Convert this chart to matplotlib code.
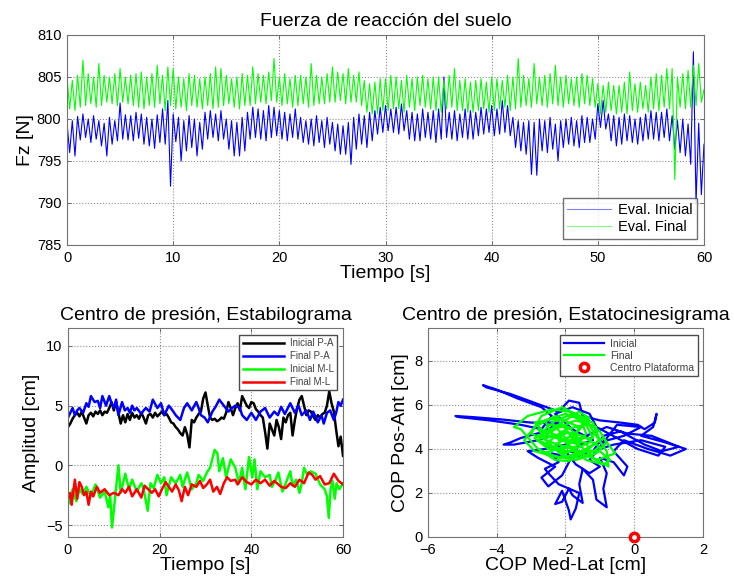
import matplotlib.pyplot as plt
import numpy as np

plt.rcParams.update({'font.family': ['Liberation Sans', 'DejaVu Sans'], 'font.size': 10.5})

# Fuerza vertical, muestras cada 0.25 s (una fila = 3 s)
dt_fz = 0.25
fz_inicial = [
    799.5, 796.0, 799.8, 795.6, 800.3, 797.5, 800.6, 797.8, 800.0, 797.2, 800.4, 797.6,
    799.8, 796.8, 799.5, 795.6, 800.2, 797.0, 799.8, 797.4, 801.9, 797.6, 800.5, 797.5,
    800.4, 797.4, 800.8, 797.7, 800.6, 797.0, 800.2, 796.8, 800.0, 796.5, 800.5, 797.2,
    801.2, 797.0, 802.2, 792.0, 800.6, 797.3, 800.2, 795.0, 799.8, 796.2, 800.4, 796.6,
    800.0, 795.6, 799.6, 796.4, 800.8, 797.6, 801.0, 797.8, 800.6, 797.4, 801.0, 797.6,
    800.0, 796.4, 799.8, 795.6, 799.6, 795.6, 800.2, 796.2, 800.8, 797.6, 801.4, 797.8,
    801.2, 797.6, 801.0, 797.4, 801.6, 797.8, 801.4, 798.0, 801.0, 797.6, 800.8, 797.4,
    800.6, 797.8, 801.2, 797.6, 800.2, 797.2, 799.8, 797.0, 800.0, 796.8, 800.4, 797.2,
    799.8, 796.6, 800.2, 797.0, 799.6, 796.2, 799.4, 795.8, 799.2, 795.8, 799.6, 794.6,
    800.2, 796.4, 800.6, 797.0, 800.4, 796.6, 800.8, 797.4, 801.0, 798.2, 801.4, 798.4,
    801.6, 798.6, 801.2, 798.4, 801.4, 798.2, 801.8, 798.6, 801.0, 797.6, 800.8, 797.4,
    800.6, 797.4, 801.2, 797.8, 800.8, 797.6, 801.0, 797.2, 801.2, 797.6, 805.0, 797.8,
    800.8, 797.6, 801.0, 797.4, 800.6, 797.8, 801.2, 797.6, 801.0, 797.6, 800.8, 798.0,
    801.4, 798.2, 801.2, 798.4, 801.6, 798.0, 801.2, 798.2, 802.2, 798.4, 801.6, 798.0,
    800.2, 796.6, 799.8, 796.2, 799.6, 795.8, 799.8, 793.4, 799.6, 793.3, 800.0, 796.2,
    799.8, 796.0, 800.2, 796.4, 799.4, 795.0, 799.8, 796.6, 800.0, 797.0, 800.2, 796.8,
    799.8, 796.6, 800.4, 797.2, 800.2, 797.2, 800.0, 797.6, 801.8, 799.0, 802.2, 798.8,
    800.6, 797.4, 800.4, 796.8, 800.2, 797.0, 800.6, 797.4, 800.4, 797.2, 800.0, 797.0,
    800.2, 797.4, 800.6, 797.6, 801.0, 797.6, 800.8, 797.4, 800.8, 797.8, 801.2, 797.4,
    800.4, 796.4, 799.8, 796.0, 800.0, 795.6, 799.4, 794.6, 808.0, 790.0, 799.5, 791.0,
    797.0,
]
fz_final = [
    805.0, 801.2, 804.6, 801.0, 805.2, 801.4, 807.0, 801.6, 805.4, 801.8, 805.0, 801.4,
    806.6, 801.6, 805.2, 802.0, 805.0, 801.8, 805.4, 801.6, 806.0, 802.0, 805.0, 801.8,
    805.2, 801.6, 805.4, 801.4, 805.6, 801.2, 805.0, 801.6, 805.4, 801.4, 806.4, 801.8,
    805.2, 801.0, 806.2, 801.6, 806.0, 801.2, 805.0, 801.4, 804.8, 801.0, 805.4, 801.6,
    805.2, 801.4, 804.8, 801.2, 805.0, 801.6, 805.4, 801.2, 806.2, 801.4, 806.0, 801.6,
    805.2, 801.8, 804.8, 801.4, 805.0, 801.2, 805.4, 801.6, 805.2, 801.6, 806.2, 801.8,
    805.4, 802.0, 805.2, 801.8, 805.6, 802.2, 807.2, 802.0, 805.0, 801.6, 805.4, 801.8,
    804.8, 801.4, 805.2, 801.6, 805.2, 801.8, 805.0, 801.4, 806.6, 801.6, 805.2, 801.8,
    805.0, 801.8, 805.4, 802.0, 806.2, 802.0, 805.6, 802.2, 805.4, 801.8, 806.0, 802.0,
    805.2, 802.0, 805.6, 801.6, 804.6, 800.8, 804.2, 800.6, 804.4, 800.6, 804.8, 801.0,
    804.8, 801.0, 805.2, 801.2, 805.0, 801.2, 804.6, 800.8, 805.2, 801.4, 804.8, 801.0,
    805.0, 801.6, 805.2, 801.4, 804.8, 801.2, 805.0, 801.0, 805.0, 800.8, 804.6, 801.2,
    805.2, 801.4, 806.0, 801.0, 804.6, 801.0, 804.8, 800.8, 804.4, 800.8, 804.6, 801.0,
    804.8, 801.2, 804.4, 800.8, 805.0, 801.0, 804.8, 801.2, 804.6, 801.4, 805.2, 801.0,
    805.0, 801.2, 807.2, 801.4, 805.2, 801.6, 804.8, 801.4, 806.6, 801.8, 805.0, 801.6,
    805.2, 801.4, 805.4, 801.8, 806.4, 801.6, 805.0, 801.4, 805.2, 801.8, 804.8, 801.6,
    805.0, 801.4, 805.4, 801.8, 805.2, 801.6, 804.8, 801.4, 804.2, 800.6, 804.0, 800.8,
    804.4, 801.0, 804.0, 800.6, 804.0, 800.8, 804.4, 800.6, 805.6, 801.0, 804.2, 800.8,
    804.4, 801.2, 804.0, 800.8, 805.0, 801.2, 805.4, 801.0, 805.2, 801.4, 806.0, 801.2,
    806.0, 792.8, 805.0, 801.4, 805.4, 801.2, 805.8, 801.4, 806.4, 801.6, 806.6, 802.0,
    803.5,
]

# Estabilograma (tiempo [s], amplitud [cm])
pa_inicial = [
    (0, 3.2), (0.5, 3.5), (1, 3.9), (1.5, 4.2), (2, 4.4), (2.5, 4.1), (3, 4.5), (3.5, 4.0),
    (4, 3.5), (4.5, 4.2), (5, 4.4), (5.5, 4.1), (6, 4.5), (6.5, 4.3), (7, 4.6), (7.5, 4.2),
    (8, 4.5), (8.5, 4.4), (9, 4.8), (9.5, 5.3), (10, 4.6), (10.5, 5.3), (11, 4.4), (11.5, 3.5),
    (12, 4.2), (12.5, 3.6), (13, 4.3), (13.5, 3.8), (14, 4.4), (14.5, 4.0), (15, 4.2), (15.5, 3.9),
    (16, 4.4), (16.5, 4.0), (17, 3.5), (17.5, 4.2), (18, 4.3), (18.5, 4.0), (19, 4.4), (19.5, 4.1),
    (20, 4.3), (20.5, 4.5), (21, 4.2), (21.5, 4.3), (22, 4.0), (22.5, 3.6), (23, 3.5), (23.5, 3.2),
    (24, 3.0), (24.5, 2.7), (25, 2.5), (25.5, 3.2), (26, 2.6), (26.5, 1.5), (27, 3.8), (27.5, 3.6),
    (28, 4.0), (28.5, 4.3), (29, 4.5), (29.5, 5.6), (30, 6.1), (30.5, 5.0), (31, 4.0), (31.5, 3.8),
    (32, 3.9), (32.5, 3.7), (33, 3.8), (33.5, 4.0), (34, 3.9), (34.5, 4.4), (35, 5.3), (35.5, 4.8),
    (36, 4.2), (36.5, 4.8), (37, 5.2), (37.5, 4.6), (38, 5.8), (38.5, 5.4), (39, 5.0), (39.5, 4.8),
    (40, 5.3), (40.5, 5.2), (41, 4.7), (41.5, 4.5), (42, 4.2), (42.5, 4.0), (43, 2.8), (43.5, 1.4),
    (44, 3.5), (44.5, 3.0), (45, 2.5), (45.5, 3.8), (46, 3.2), (46.5, 2.2), (47, 4.0), (47.5, 3.6),
    (48, 4.2), (48.5, 4.4), (49, 2.5), (49.5, 3.8), (50, 4.8), (50.5, 5.5), (51, 5.8), (51.5, 5.0),
    (52, 4.2), (52.5, 4.6), (53, 4.5), (53.5, 4.1), (54, 3.8), (54.5, 4.2), (55, 4.0), (55.5, 4.3),
    (56, 4.4), (56.5, 5.0), (57, 6.2), (57.5, 5.2), (58, 4.5), (58.5, 3.0), (59, 1.6), (59.5, 2.4),
    (60, 0.8),
]
pa_final = [
    (0, 4.0), (0.5, 4.4), (1, 4.8), (1.5, 4.2), (2, 4.6), (2.5, 4.8), (3.3, 4.4), (4, 5.2),
    (4.5, 4.9), (5, 5.8), (5.8, 5.3), (6.5, 5.4), (7, 4.8), (7.5, 5.8), (8.3, 5.0), (9, 5.8),
    (9.5, 5.2), (10, 4.8), (10.5, 5.5), (11, 4.2), (11.8, 5.3), (12.4, 4.6), (13, 4.8), (13.5, 4.4),
    (14, 5.0), (14.5, 4.6), (15, 4.8), (16, 4.3), (16.5, 4.6), (17, 4.8), (17.8, 4.5), (18.5, 5.5),
    (19.5, 4.8), (20.3, 5.2), (21, 4.2), (21.5, 4.6), (22, 5.0), (22.8, 4.6), (23.5, 4.2), (24.5, 3.8),
    (25.3, 4.8), (26, 5.2), (27, 4.6), (28, 5.3), (28.5, 4.8), (29, 4.2), (29.8, 4.0), (30.5, 3.6),
    (31.5, 4.5), (32.2, 4.9), (33, 5.5), (34, 5.0), (35, 4.5), (35.8, 4.8), (36.5, 5.0), (37.5, 4.8),
    (38, 4.2), (39, 3.8), (40, 4.4), (41, 3.8), (42, 4.5), (43, 4.8), (44, 4.0), (45, 4.5),
    (45.8, 4.2), (46.5, 4.9), (47.3, 4.3), (48.5, 5.2), (49.5, 4.4), (50.3, 5.0), (51, 4.2), (52, 4.6),
    (52.8, 3.8), (53.5, 4.5), (54.5, 3.6), (55.3, 4.2), (55.8, 3.5), (56.5, 4.4), (57.2, 4.6), (58, 3.8),
    (58.5, 4.4), (59, 5.3), (59.5, 5.0), (60, 5.5),
]
ml_inicial = [
    (0, -2.5), (0.5, -3.2), (1, -2.0), (1.8, -3.0), (2.5, -2.0), (3.2, -2.4), (4, -1.8), (5, -2.6),
    (6, -1.6), (7, -2.7), (8, -2.2), (8.8, -3.5), (9.2, -2.5), (9.6, -5.2), (10.2, -3.0), (10.6, -1.5),
    (11, 0.0), (11.5, -2.3), (12.5, -0.7), (13.3, -2.0), (14, -1.2), (15, -2.2), (16, -1.5), (16.5, -2.0),
    (17.4, -3.8), (18, -1.5), (18.7, -1.9), (19.5, -0.8), (20.3, -1.5), (21, -1.0), (21.5, -2.5), (22.5, -1.0),
    (23.5, -1.5), (24.5, -0.8), (25, -1.8), (26, -0.6), (27, -2.0), (28, -1.5), (28.5, -0.8), (29.5, -1.3),
    (30.3, -0.6), (31, -0.2), (32, 1.3), (32.6, 1.0), (33, -0.5), (33.8, 0.6), (34.5, -1.0), (35.5, 0.5),
    (36.5, -0.2), (37.3, -1.5), (38, -0.2), (38.7, -2.0), (39.5, 0.7), (40.2, -1.0), (40.7, 0.5), (41.3, -2.0),
    (42, -0.5), (43, -1.0), (44, -0.8), (44.5, -1.8), (45.2, -1.3), (45.9, -0.6), (46.8, -2.2), (47.5, -1.5),
    (48.5, -0.5), (49, -1.7), (49.8, -1.2), (50.5, -2.3), (51, -1.5), (51.5, -0.2), (52.2, -0.8), (53, -0.5),
    (54, -0.7), (55, -1.6), (56, -2.0), (56.5, -2.6), (56.9, -4.4), (57.3, -2.0), (57.7, -1.3), (58.2, -2.8),
    (58.6, -1.5), (59.2, -2.0), (60, -1.5),
]
ml_final = [
    (0, -2.8), (0.5, -2.3), (0.8, -3.3), (1.5, -1.2), (2, -2.8), (2.5, -1.4), (3, -1.8), (3.5, -2.5),
    (4, -2.2), (4.5, -3.3), (5, -2.2), (5.5, -2.6), (6.3, -1.8), (7, -2.3), (8, -2.0), (9, -2.5),
    (10, -2.3), (11, -2.5), (11.8, -2.0), (12.5, -2.3), (13.3, -1.8), (14, -2.6), (15, -2.0), (16, -2.7),
    (16.7, -1.7), (17.5, -2.0), (18.3, -2.3), (19, -2.0), (19.8, -2.6), (20.5, -2.0), (21.3, -1.4), (22, -1.8),
    (22.7, -2.2), (23.5, -1.6), (24.2, -2.1), (24.8, -3.0), (25.5, -1.8), (26.2, -2.5), (27, -1.6), (28, -1.8),
    (28.8, -1.3), (29.5, -1.9), (30.3, -1.6), (31, -1.2), (31.7, -2.2), (32.5, -1.8), (33.2, -2.4), (34, -1.5),
    (34.7, -1.0), (35.5, -1.3), (36.5, -1.2), (37, -1.6), (38, -1.0), (39, -1.4), (40, -1.6), (41, -1.2),
    (42, -1.5), (43, -1.2), (44, -1.7), (45, -1.3), (46.5, -1.8), (47.5, -1.9), (48.5, -1.5), (49.5, -1.8),
    (50.5, -1.2), (51.5, -1.5), (52.5, -0.6), (53.3, -0.8), (54, -1.2), (55, -0.9), (56, -1.6), (57, -1.5),
    (58, -0.7), (59, -1.3), (60, -1.6),
]

# Estatocinesigrama (Med-Lat [cm], Pos-Ant [cm])
cop_inicial = [
    (-2.4, 4.6), (-2.8, 4.4), (-3.5, 4.2), (-3.8, 4.2), (-3.6, 4.3), (-3.3, 4.5), (-2.6, 4.8), (-2.2, 5.2),
    (-3.0, 5.2), (-3.9, 5.35), (-4.7, 5.45), (-5.2, 5.5), (-5.1, 5.45), (-4.2, 5.3), (-3.3, 5.1), (-2.7, 4.9),
    (-2.4, 5.5), (-2.7, 5.9), (-3.4, 6.3), (-4.0, 6.7), (-4.4, 6.9), (-4.3, 6.8), (-3.6, 6.5), (-2.9, 6.1),
    (-2.2, 5.7), (-1.9, 6.2), (-1.6, 6.1), (-1.5, 5.5), (-1.0, 5.3), (-0.4, 5.2), (0.1, 5.1), (0.3, 4.9),
    (0.6, 5.2), (0.65, 5.6), (0.55, 5.0), (0.2, 4.6), (0.9, 4.3), (1.5, 4.0), (1.2, 3.8), (1.05, 3.7),
    (0.4, 4.0), (-0.3, 4.4), (-0.6, 3.9), (-0.2, 3.2), (-0.3, 2.8), (-0.6, 3.4), (-1.0, 3.6), (-0.8, 2.9),
    (-0.9, 2.2), (-0.8, 1.35), (-1.1, 1.7), (-1.2, 2.6), (-1.5, 3.1), (-1.6, 2.4), (-1.5, 1.55), (-1.8, 1.9),
    (-1.9, 2.2), (-2.1, 1.6), (-2.3, 1.5), (-2.1, 2.1), (-1.9, 1.2), (-1.85, 0.8), (-1.7, 1.3), (-1.6, 2.0),
    (-2.2, 2.4), (-2.5, 2.9), (-2.6, 3.1), (-2.2, 3.4), (-2.4, 3.8), (-1.8, 3.6), (-1.2, 3.9), (-0.9, 4.6),
    (-0.4, 4.8), (0.3, 4.2), (0.8, 3.9), (1.3, 4.1), (0.5, 4.6), (-0.2, 4.7), (-0.8, 5.0), (-1.4, 4.6),
    (-2.0, 4.2), (-2.6, 4.0), (-3.1, 3.9), (-2.8, 3.6), (-2.3, 3.2), (-2.7, 2.7), (-2.5, 2.3), (-2.1, 2.8),
    (-1.9, 3.4), (-1.6, 4.2), (-1.2, 4.4), (-1.8, 4.9), (-2.3, 5.6), (-1.8, 5.9), (-1.3, 5.6), (-1.1, 5.0),
    (-0.5, 4.5), (0.1, 4.0), (0.7, 3.7), (0.9, 4.1), (0.2, 4.4), (-0.6, 4.2), (-1.4, 3.8), (-2.0, 3.9),
    (-1.7, 3.3), (-1.3, 2.9), (-1.0, 3.2), (-1.3, 3.5), (-0.5, 5.1), (0.2, 5.0), (-0.3, 4.6), (-1.0, 4.3),
]
cop_final = [
    (-2.0, 4.5), (-2.4, 5.2), (-1.8, 5.6), (-1.2, 5.2), (-1.0, 4.4), (-1.5, 3.8), (-2.2, 3.6), (-2.8, 4.0),
    (-3.3, 4.9), (-3.5, 5.0), (-3.1, 5.5), (-2.4, 5.8), (-1.9, 5.7), (-1.4, 5.4), (-1.2, 4.8), (-0.8, 3.9),
    (-0.75, 3.2), (-1.2, 3.6), (-1.6, 4.2), (-2.5, 4.6), (-2.9, 5.2), (-2.2, 5.4), (-1.6, 5.0), (-1.9, 4.2),
    (-2.6, 3.8), (-2.3, 3.5), (-1.9, 3.45), (-1.4, 4.0), (-0.9, 4.5), (-0.55, 3.8), (-1.1, 3.5), (-1.8, 4.0),
    (-2.4, 4.3), (-3.0, 4.7), (-2.7, 5.5), (-2.1, 5.9), (-1.6, 5.5), (-1.4, 4.7), (-1.7, 4.1), (-2.2, 4.0),
    (-2.8, 4.4), (-2.3, 4.9), (-1.7, 5.3), (-1.1, 5.0), (-1.3, 4.3), (-2.0, 3.8), (-2.6, 4.2), (-2.1, 4.8),
    (-1.5, 4.6), (-1.0, 4.1), (-1.5, 3.6), (-2.1, 3.7), (-2.7, 4.6), (-2.5, 5.1), (-1.9, 5.0), (-1.6, 4.4),
    (-2.2, 4.4), (-2.0, 4.9), (-1.4, 5.1), (-1.2, 4.5), (-1.8, 4.5), (-2.3, 5.5), (-2.9, 5.0), (-3.2, 4.4),
    (-2.9, 3.9), (-2.4, 3.7), (-1.7, 3.5), (-1.1, 3.8), (-0.8, 4.3), (-1.0, 4.8), (-1.5, 5.3), (-2.0, 5.6),
    (-2.6, 5.3), (-2.4, 4.7), (-1.9, 4.3), (-1.4, 4.3), (-1.3, 3.9), (-1.9, 3.9), (-2.5, 4.0), (-2.9, 4.5),
    (-2.2, 5.1), (-1.6, 5.7), (-1.3, 5.4), (-1.7, 4.7), (-2.3, 4.2), (-2.0, 3.6), (-1.6, 3.9), (-1.0, 3.9),
    (-0.7, 3.5), (-0.9, 3.3), (-1.4, 3.5), (-2.2, 4.6), (-2.8, 4.9), (-2.6, 4.5), (-2.0, 4.7),
]
centro_plataforma = (0.0, 0.0)


def style_axes(ax):
    ax.grid(True, linestyle=':', color='0.55', linewidth=0.8)
    ax.set_axisbelow(True)
    ax.tick_params(direction='in', top=True, right=True, length=3, width=0.6,
                   color='0.35', labelsize=10.5, pad=4)
    for s in ax.spines.values():
        s.set_color('0.45')
        s.set_linewidth(0.8)


fig = plt.figure(figsize=(7.34, 5.83), dpi=100)

# --- Fuerza de reacción ---
ax1 = fig.add_axes([67 / 734, 338 / 583, 637 / 734, 210 / 583])
t_fz = np.arange(len(fz_inicial)) * dt_fz
ax1.plot(t_fz, fz_inicial, color=(0, 0, 1), lw=0.8, label='Eval. Inicial')
ax1.plot(t_fz, fz_final, color=(0, 1, 0), lw=0.8, label='Eval. Final')
ax1.set_xlim(0, 60)
ax1.set_ylim(785, 810)
ax1.set_xticks(range(0, 61, 10))
ax1.set_yticks(range(785, 811, 5))
style_axes(ax1)
ax1.set_title('Fuerza de reacción del suelo', fontsize=14, pad=6.5)
ax1.set_xlabel('Tiempo [s]', fontsize=14, labelpad=0)
ax1.set_ylabel('Fz [N]', fontsize=14, labelpad=2)
leg = ax1.legend(loc='lower right', bbox_to_anchor=(0.989, 0.03), fontsize=10.5,
                 fancybox=False, edgecolor='0.3', handlelength=3.0, borderpad=0.3,
                 labelspacing=0.25, handletextpad=0.5, borderaxespad=0)
for ln in leg.get_lines():
    ln.set_alpha(0.5)

# --- Estabilograma ---
ax2 = fig.add_axes([68 / 734, 46 / 583, 275 / 734, 209 / 583])
series = [(pa_inicial, 'k', 'Inicial P-A'), (pa_final, (0, 0, 1), 'Final P-A'),
          (ml_inicial, (0, 1, 0), 'Inicial M-L'), (ml_final, (1, 0, 0), 'Final M-L')]
for data, col, lab in series:
    t, v = zip(*data)
    ax2.plot(t, v, color=col, lw=1.8, label=lab)
ax2.set_xlim(0, 60)
ax2.set_ylim(-6, 11.5)
ax2.set_xticks([0, 20, 40, 60])
ax2.set_yticks([-5, 0, 5, 10])
style_axes(ax2)
ax2.set_title('Centro de presión, Estabilograma', fontsize=14, pad=6)
ax2.set_xlabel('Tiempo [s]', fontsize=14, labelpad=0)
ax2.set_ylabel('Amplitud [cm]', fontsize=14, labelpad=4)
ax2.legend(loc='upper right', bbox_to_anchor=(0.978, 0.967), fontsize=7, labelcolor='0.25',
           fancybox=False, edgecolor='0.3', handlelength=4.2, borderpad=0.35,
           labelspacing=0.3, handletextpad=0.6, borderaxespad=0, framealpha=1)

# --- Estatocinesigrama ---
ax3 = fig.add_axes([428 / 734, 46 / 583, 275 / 734, 209 / 583])
x, y = zip(*cop_inicial)
ax3.plot(x, y, color=(0, 0, 1), lw=1.6, label='Inicial')
x, y = zip(*cop_final)
ax3.plot(x, y, color=(0, 1, 0), lw=1.6, label='Final')
ax3.plot([centro_plataforma[0]], [centro_plataforma[1]], 'o', color='red', mfc='white',
         mec='red', ms=6, mew=2.5, clip_on=False, zorder=5, label='Centro Plataforma')
ax3.set_xlim(-6, 2)
ax3.set_ylim(0, 9.5)
ax3.set_xticks([-6, -4, -2, 0, 2])
ax3.set_yticks([0, 2, 4, 6, 8])
style_axes(ax3)
ax3.set_title('Centro de presión, Estatocinesigrama', fontsize=14, pad=6)
ax3.set_xlabel('COP Med-Lat [cm]', fontsize=14, labelpad=0)
ax3.set_ylabel('COP Pos-Ant [cm]', fontsize=14, labelpad=4)
ax3.legend(loc='upper right', bbox_to_anchor=(0.982, 0.967), fontsize=7.5, labelcolor='0.25',
           fancybox=False, edgecolor='0.3', handlelength=3.9, borderpad=0.35,
           labelspacing=0.2, handletextpad=0.6, borderaxespad=0, framealpha=1)

fig.savefig('out.png', dpi=100)
